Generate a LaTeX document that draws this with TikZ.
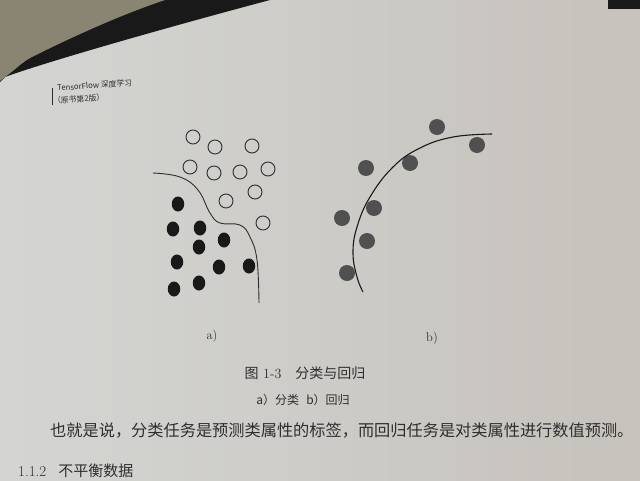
\documentclass[tikz,border=0pt]{standalone}
\usepackage{fontspec}
\newfontfamily\cjk{Noto Sans CJK SC}
\usetikzlibrary{shapes.geometric}
\definecolor{paperL}{HTML}{D4D5D3}
\definecolor{paperR}{HTML}{C6C2BC}
\definecolor{backdrop}{HTML}{8A8473}
\definecolor{ink}{HTML}{2E2E2E}
\definecolor{regfill}{HTML}{505050}

\begin{document}
\begin{tikzpicture}[x=1pt, y=-1pt,
    opendot/.style={circle, draw=ink, line width=0.9pt, minimum size=14pt, inner sep=0pt},
    classdot/.style={ellipse, fill=black!90, minimum width=12.5pt, minimum height=15pt, inner sep=0pt},
    regdot/.style={circle, fill=regfill, minimum size=16pt, inner sep=0pt},
    boundary/.style={draw=ink, line width=0.9pt},
    caption/.style={text=ink, inner sep=0pt}
    ]
    \useasboundingbox (0,0) rectangle (640,480);
    % page and backdrop
    \shade[left color=paperL, right color=paperR] (0,0) rectangle (640,480);
    \fill[black!90] (0,0) -- (0,82) -- (5,77) .. controls (40,64) and (150,32) .. (270,0) -- cycle;
    \fill[backdrop] (0,0) -- (0,81) -- (5,77) .. controls (15,70) and (22,62) .. (32,57)
      .. controls (70,38) and (120,15) .. (165,0) -- cycle;
    \fill[black!90] (608,0) rectangle (640,9);

    % running head
    \draw[ink, line width=0.8pt] (52,88) -- (52,105);
    \node[caption, anchor=west, rotate=4, font=\cjk\fontsize{7.8}{8}\selectfont] (head) at (57,88) {TensorFlow 深度学习};
    \node[caption, anchor=west, rotate=4, font=\cjk\fontsize{7.8}{8}\selectfont] (edition) at (53,101) {（原书第2版）};

    % a) classification
    \foreach \x/\y [count=\i] in {193/137, 215/147, 252/146, 190/167, 214/173,
        240/172, 268/169, 255/192, 226/201, 263/223}
      \node[opendot] (open\i) at (\x,\y) {};
    \foreach \x/\y [count=\i] in {178/204, 173/229, 200/228, 224/240, 199/247,
        177/262, 219/267, 249/266, 174/289, 199/283}
      \node[classdot] (full\i) at (\x,\y) {};
    \draw[boundary] plot[smooth, tension=0.7] coordinates {(153,173) (180,177) (198,190)
      (210,213) (220,223) (240,225) (250,237) (257,260) (259,303)};

    % b) regression
    \foreach \x/\y [count=\i] in {437/127, 477/145, 410/163, 366/168, 374/208,
        342/218, 367/241, 347/273}
      \node[regdot] (point\i) at (\x,\y) {};
    \draw[black!90, line width=1.1pt] plot[smooth, tension=0.7] coordinates {(492,134) (453,137)
      (420,148) (393,167) (370,197) (357,227) (353,253) (357,277) (363,292)};

    % labels
    \node[caption, font=\fontsize{12.5}{14}\selectfont] (la) at (212,336) {a)};
    \node[caption, font=\fontsize{12.5}{14}\selectfont] (lb) at (432,338) {b)};
    \node[caption, font=\fontsize{14}{16}\selectfont] (fig) at (305,373)
      {{\cjk 图} 1-3\hspace{1em}{\cjk 分类与回归}};
    \node[caption, font=\cjk\fontsize{12}{14}\selectfont] (sub) at (303,400) {a）分类\hspace{0.6em}b）回归};

    % body text
    \node[caption, anchor=west, font=\cjk\fontsize{16.2}{18}\selectfont] (body) at (50,431)
      {也就是说，分类任务是预测类属性的标签，而回归任务是对类属性进行数值预测。};
    \node[caption, anchor=west, font=\fontsize{15}{16}\selectfont] (sec) at (18,471)
      {1.1.2\hspace{0.8em}{\cjk 不平衡数据}};
  \end{tikzpicture}
\end{document}
